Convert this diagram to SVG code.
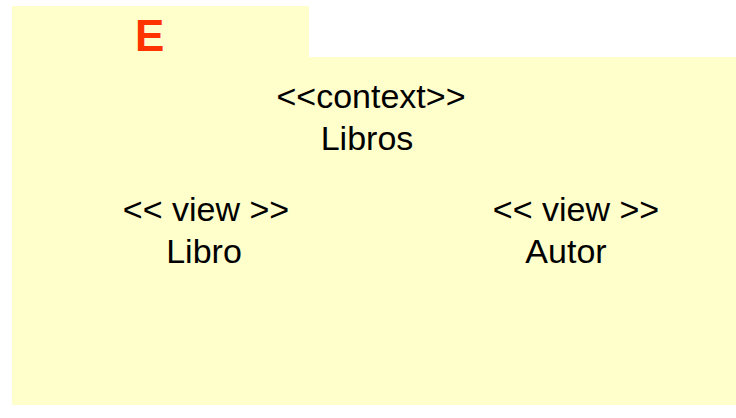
<svg xmlns="http://www.w3.org/2000/svg" width="736" height="418" viewBox="0 0 736 418">
<style>
.pkg{fill:#FFFFCC;stroke:none}
.t{font-family:"Liberation Sans",Arial,sans-serif;font-size:34px;fill:#000;text-anchor:middle}
.e{font-family:"Liberation Sans",Arial,sans-serif;font-size:44px;font-weight:bold;fill:#FF3300}
</style>
<g id="package">
<path class="pkg" d="M12 6 H309 V57 H736 V405 H12 Z"/>
<text class="e" x="135" y="51">E</text>
</g>
<g id="context">
<text class="t" x="371" y="108">&lt;&lt;context&gt;&gt;</text>
<text class="t" x="367" y="150">Libros</text>
</g>
<g id="view-libro">
<text class="t" x="206" y="221">&lt;&lt; view &gt;&gt;</text>
<text class="t" x="204" y="263">Libro</text>
</g>
<g id="view-autor">
<text class="t" x="576" y="221">&lt;&lt; view &gt;&gt;</text>
<text class="t" x="566" y="263">Autor</text>
</g>
<g id="connectors"></g>
</svg>
